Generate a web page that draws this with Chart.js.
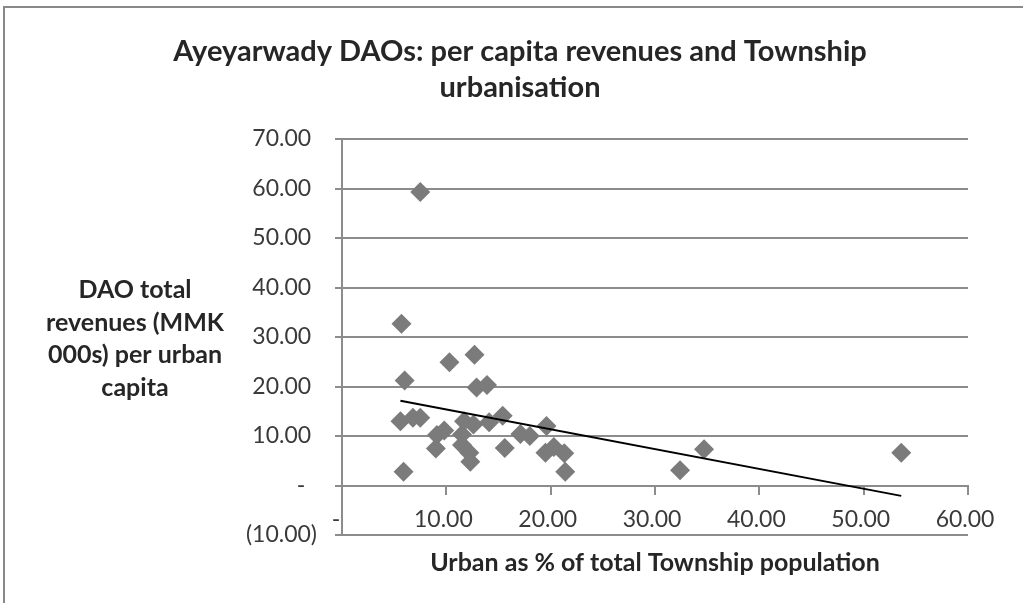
<!DOCTYPE html>
<html><head><meta charset="utf-8">
<script src="https://cdn.jsdelivr.net/npm/chart.js@4.4.0/dist/chart.umd.min.js"></script>
<style>html,body{margin:0;padding:0;background:#fff;}#wrap{position:relative;width:1023px;height:603px;overflow:hidden}</style>
</head><body><div id="wrap"><canvas id="c" width="1023" height="603"></canvas></div>
<script>
const chartTitle = ['Ayeyarwady DAOs: per capita revenues and Township', 'urbanisation'];
const xAxisTitle = 'Urban as % of total Township population';
const yAxisTitle = ['DAO total', 'revenues (MMK', '000s) per urban', 'capita'];

// Urban as % of total Township population
const urbanPct = [5.7, 6.0, 10.3, 12.7, 12.9, 13.9, 7.5, 5.6, 6.8, 7.5,
                  9.1, 9.8, 9.0, 5.9, 11.7, 12.6, 11.5, 11.5, 12.2, 12.3,
                  14.1, 15.4, 15.6, 17.1, 18.0, 19.6, 19.5, 20.3, 21.3, 21.4,
                  32.4, 34.7, 53.6];
// DAO total revenues (MMK 000s) per urban capita
const revenuePerCapita = [32.7, 21.2, 24.9, 26.4, 19.8, 20.3, 59.3, 13.0, 13.7, 13.7,
                          10.2, 11.1, 7.5, 2.8, 13.0, 12.3, 10.3, 8.2, 6.6, 4.8,
                          12.8, 14.1, 7.6, 10.4, 10.0, 12.0, 6.6, 7.8, 6.5, 2.8,
                          3.1, 7.3, 6.6];
const xTickRange = [0, 60];
const yTickRange = [-10, 70];
const tickStep = 10;

// accounting style number labels
function acct(v) {
  if (Math.abs(v) < 1e-9) return '-  ';
  if (v < 0) return '(' + Math.abs(v).toFixed(2) + ')';
  return v.toFixed(2) + ' ';
}

// linear trend (least squares) from the data
const n = urbanPct.length;
const mx = urbanPct.reduce((a, b) => a + b, 0) / n;
const my = revenuePerCapita.reduce((a, b) => a + b, 0) / n;
let sxy = 0, sxx = 0;
for (let i = 0; i < n; i++) { sxy += (urbanPct[i] - mx) * (revenuePerCapita[i] - my); sxx += (urbanPct[i] - mx) ** 2; }
const slope = sxy / sxx, intercept = my - slope * mx;
const xMin = Math.min(...urbanPct), xMax = Math.max(...urbanPct);
const trendPts = [{x: xMin, y: intercept + slope * xMin}, {x: xMax, y: intercept + slope * xMax}];

const points = urbanPct.map((x, i) => ({x, y: revenuePerCapita[i]}));

const GRID = '#8c8c8c';
const decor = {
  id: 'decor',
  beforeDraw(chart) {
    const ctx = chart.ctx;
    ctx.save();
    ctx.fillStyle = '#ffffff';
    ctx.fillRect(0, 0, chart.width, chart.height);
    ctx.strokeStyle = '#888888';
    ctx.lineWidth = 2;
    ctx.strokeRect(4, 7, 1200, 800);
    ctx.restore();
  },
  afterDraw(chart) {
    const ctx = chart.ctx;
    ctx.save();
    ctx.fillStyle = '#262626';
    ctx.textAlign = 'center';
    ctx.textBaseline = 'middle';
    ctx.font = 'bold 29px Lato';
    chartTitle.forEach((t, i) => ctx.fillText(t, 520, 52 + i * 36));
    ctx.font = 'bold 25px Lato';
    yAxisTitle.forEach((t, i) => ctx.fillText(t, 135, 290 + i * 32.7));
    ctx.font = 'bold 25px Lato';
    ctx.fillText(xAxisTitle, 655, 563);
    ctx.restore();
  }
};

new Chart(document.getElementById('c'), {
  type: 'scatter',
  data: {
    datasets: [
      { type: 'line', data: trendPts, borderColor: '#000000', borderWidth: 2, pointRadius: 0, fill: false, order: 0 },
      { data: points, pointStyle: 'rectRot', pointRadius: 10, backgroundColor: '#7b7b7b', borderWidth: 0, order: 1 }
    ]
  },
  options: {
    responsive: false,
    animation: false,
    devicePixelRatio: 1,
    events: [],
    layout: { padding: { left: 0, top: 139, right: 55, bottom: 68 } },
    plugins: { legend: { display: false }, tooltip: { enabled: false }, title: { display: false } },
    scales: {
      x: {
        type: 'linear',
        position: { y: 0 },
        min: xTickRange[0], max: xTickRange[1],
        afterFit(s) { s.height = 0; },
        grid: { drawOnChartArea: false, drawTicks: true, tickLength: 8, color: GRID, lineWidth: 2 },
        border: { display: true, color: GRID, width: 2 },
        ticks: { stepSize: tickStep, callback: v => acct(v), color: '#3a3a3a', font: { family: 'Lato', size: 23 }, padding: 12, maxRotation: 0, autoSkip: false }
      },
      y: {
        type: 'linear',
        min: yTickRange[0], max: yTickRange[1],
        afterFit(s) { s.width = 342; },
        grid: { drawTicks: true, tickLength: 7, color: GRID, lineWidth: 2 },
        border: { display: true, color: GRID, width: 2 },
        ticks: { stepSize: tickStep, callback: v => acct(v), color: '#3a3a3a', font: { family: 'Lato', size: 23 }, padding: 18 }
      }
    }
  },
  plugins: [decor]
});
</script></body></html>
